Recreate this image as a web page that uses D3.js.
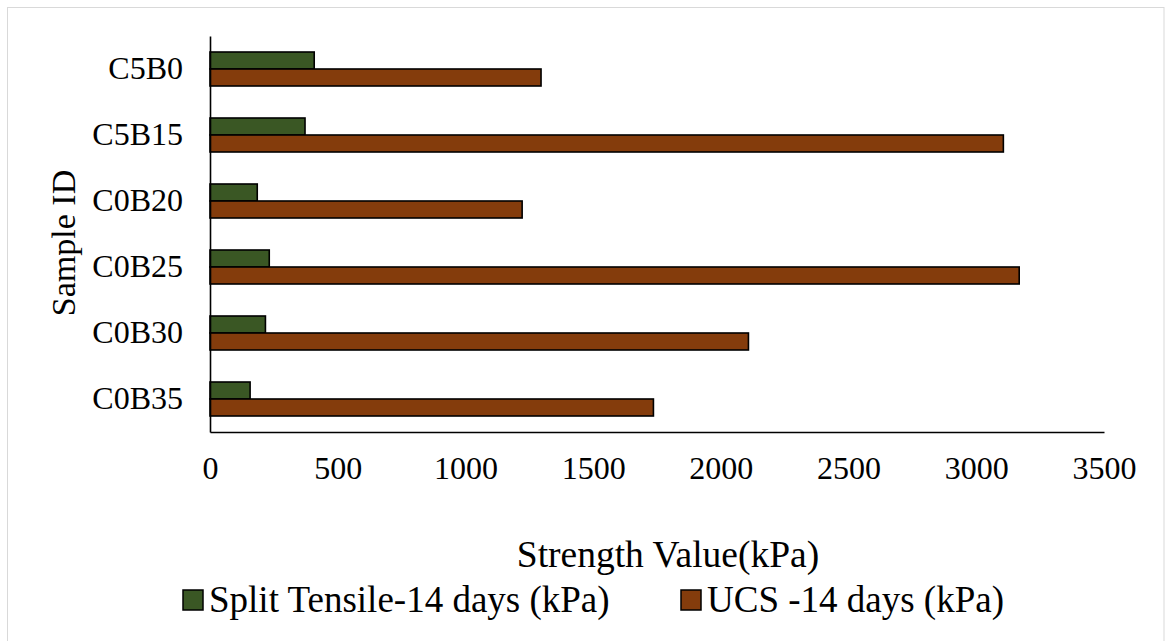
<!DOCTYPE html>
<html>
<head>
<meta charset="utf-8">
<script src="https://cdn.jsdelivr.net/npm/d3@7"></script>
<style>
  html, body { margin: 0; padding: 0; background: #fff; }
  svg text { font-family: "Liberation Serif", "Times New Roman", serif; fill: #000; }
</style>
</head>
<body>
<svg id="chart" width="1165" height="641"></svg>
<script>
// Sample identifiers, top to bottom
const samples = ["C5B0", "C5B15", "C0B20", "C0B25", "C0B30", "C0B35"];
// Split tensile strength after 14 days (kPa)
const splitTensile = [408, 372, 185, 232, 217, 157];
// Unconfined compressive strength after 14 days (kPa)
const ucs = [1296, 3106, 1222, 3168, 2108, 1736];
// Axis ticks
const xTicks = [0, 500, 1000, 1500, 2000, 2500, 3000, 3500];
const seriesNames = ["Split Tensile-14 days (kPa)", "UCS -14 days (kPa)"];
const seriesColors = ["#3A5724", "#843C0C"];

const svg = d3.select("#chart");

// outer frame
svg.append("rect")
  .attr("x", 7.5).attr("y", 7.5)
  .attr("width", 1156.5).attr("height", 650)
  .attr("fill", "none").attr("stroke", "#d9d9d9").attr("stroke-width", 1);

const plot = { left: 210, right: 1104, top: 36, bottom: 432 };

const x = d3.scaleLinear().domain([0, 3500]).range([plot.left, plot.right]);
const y = d3.scaleBand().domain(samples).range([plot.top, plot.bottom])
  .paddingInner(0.485).paddingOuter(0.2425);
const sub = d3.scaleBand().domain([0, 1]).range([0, y.bandwidth()]);

const rows = samples.map((s, i) => ({ s, vals: [splitTensile[i], ucs[i]] }));

const g = svg.append("g");
g.selectAll("g.row").data(rows).join("g")
  .attr("class", "row")
  .attr("transform", d => `translate(0,${y(d.s)})`)
  .selectAll("rect").data(d => d.vals.map((v, k) => ({ v, k })))
  .join("rect")
  .attr("x", x(0))
  .attr("y", d => sub(d.k))
  .attr("width", d => x(d.v) - x(0))
  .attr("height", sub.bandwidth())
  .attr("fill", d => seriesColors[d.k])
  .attr("stroke", "#000").attr("stroke-width", 1.6);

// axes
const xAxis = svg.append("g").attr("transform", `translate(0,${plot.bottom})`)
  .call(d3.axisBottom(x).tickValues(xTicks).tickSize(0).tickPadding(24).tickFormat(d3.format("d")));
xAxis.select(".domain").attr("stroke", "#000").attr("stroke-width", 1.6);
xAxis.selectAll("text").attr("font-size", 32).style("font-family", '"Liberation Serif", serif');

const yAxis = svg.append("g").attr("transform", `translate(${plot.left},0)`)
  .call(d3.axisLeft(y).tickSize(0).tickPadding(27));
yAxis.select(".domain").attr("stroke", "#000").attr("stroke-width", 1.6);
yAxis.selectAll("text").attr("font-size", 32).style("font-family", '"Liberation Serif", serif');

// axis titles
svg.append("text")
  .attr("x", 668).attr("y", 567)
  .attr("text-anchor", "middle").attr("font-size", 37.5)
  .text("Strength Value(kPa)");

svg.append("text")
  .attr("transform", "translate(75,243) rotate(-90)")
  .attr("text-anchor", "middle").attr("font-size", 34)
  .text("Sample ID");

// legend
const legendX = [183, 681];
const legend = svg.append("g").selectAll("g").data(seriesNames).join("g")
  .attr("transform", (d, i) => `translate(${legendX[i]},600)`);
legend.append("rect")
  .attr("x", 0).attr("y", -10).attr("width", 20).attr("height", 20)
  .attr("fill", (d, i) => seriesColors[i]).attr("stroke", "#000").attr("stroke-width", 1.5);
legend.append("text")
  .attr("x", 26).attr("y", 12).attr("font-size", 37)
  .text(d => d);
</script>
</body>
</html>
